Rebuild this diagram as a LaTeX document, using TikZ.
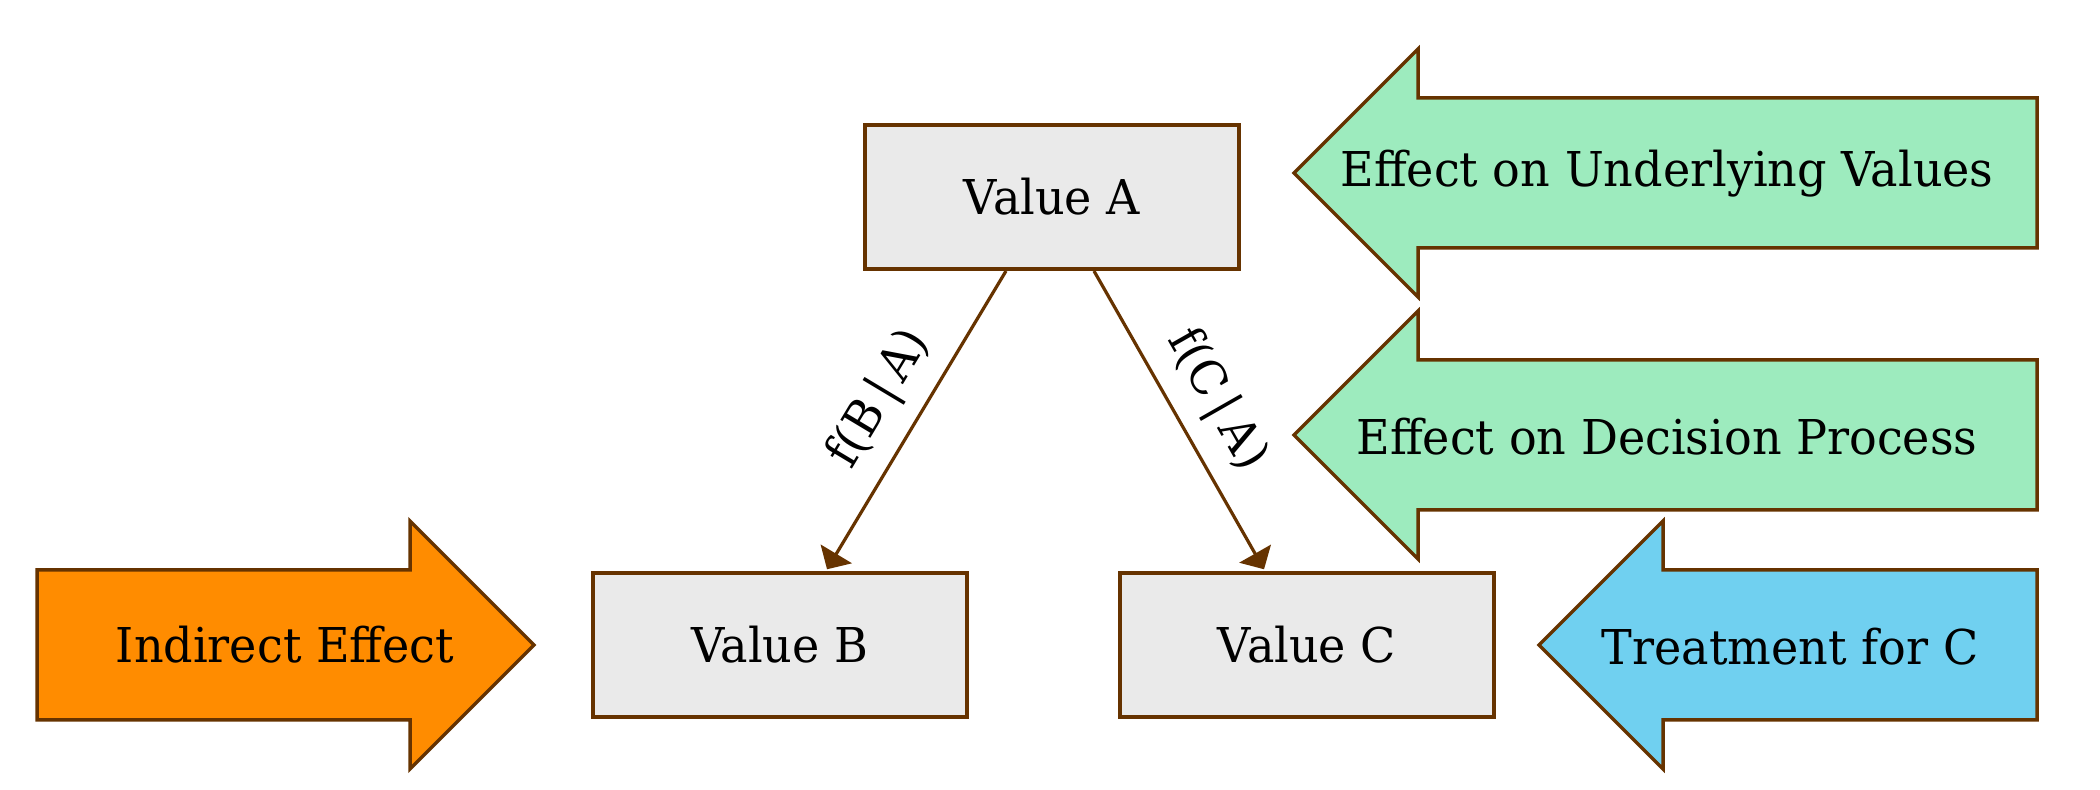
\documentclass[tikz,border=0pt]{standalone}
\usepackage{fontspec}
\setmainfont{DejaVu Serif}[FakeStretch=0.96]
\usetikzlibrary{arrows.meta}
\definecolor{brownline}{HTML}{663300}
\definecolor{boxgray}{HTML}{EAEAEA}
\definecolor{mint}{HTML}{9DEBBE}
\definecolor{darkorange}{HTML}{FF8C00}
\definecolor{skyblue}{HTML}{70D0F0}

\begin{document}
\begin{tikzpicture}[x=0.5pt,y=-0.5pt,
  valuebox/.style={draw=brownline,fill=boxgray,line width=2pt,minimum width=187pt,minimum height=72pt,font=\fontsize{24}{29}\selectfont},
  blockarrow/.style={draw=brownline,line width=1.75pt,line join=miter},
  link/.style={draw=brownline,line width=1.6pt,-{Triangle[length=9pt,width=18pt]},shorten >=1pt},
  lbl/.style={font=\fontsize{24}{29}\selectfont}]
\useasboundingbox (0,0) rectangle (2100,790);
\node[valuebox] (A) at (1052,197) {Value A};
\node[valuebox] (B) at (780,645) {Value B};
\node[valuebox] (C) at (1307,645) {Value C};
\draw[link] ([xshift=-23pt]A.south) -- node[lbl,sloped,above=5pt] (fba) {f(B\,|\,A)} ([xshift=23pt]B.north);
\draw[link] ([xshift=21pt]A.south) -- node[lbl,sloped,above=5pt] (fca) {f(C\,|\,A)} ([xshift=-21pt]C.north);
\draw[blockarrow,fill=darkorange] (37,570) -- (410,570) -- (410,521) -- (534,645) -- (410,769) -- (410,720) -- (37,720) -- cycle;
\node[lbl] (indirect) at (285,645) {Indirect Effect};
\draw[blockarrow,fill=mint] (1294,173) -- (1418,49) -- (1418,98) -- (2037,98) -- (2037,248) -- (1418,248) -- (1418,297) -- cycle;
\node[lbl] (underlying) at (1667,174) {Effect on Underlying Values};
\draw[blockarrow,fill=mint] (1294,435) -- (1418,311) -- (1418,360) -- (2037,360) -- (2037,510) -- (1418,510) -- (1418,559) -- cycle;
\node[lbl] (decision) at (1667,437) {Effect on Decision Process};
\draw[blockarrow,fill=skyblue] (1539,645) -- (1663,521) -- (1663,570) -- (2037,570) -- (2037,720) -- (1663,720) -- (1663,769) -- cycle;
\node[lbl] (treatment) at (1790,647) {Treatment for C};
\end{tikzpicture}
\end{document}
